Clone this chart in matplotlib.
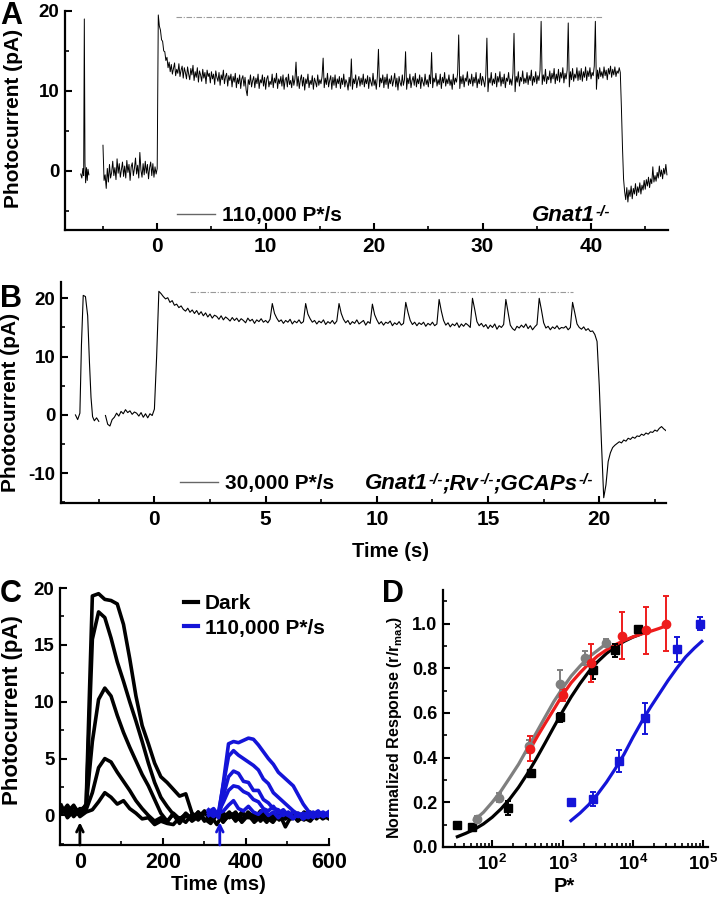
import numpy as np
import matplotlib

matplotlib.use("Agg")
import matplotlib.pyplot as plt
from matplotlib.lines import Line2D
from matplotlib.ticker import FormatStrFormatter, LogLocator, MultipleLocator, NullFormatter

plt.rcParams.update({
    "font.family": ["Liberation Sans", "DejaVu Sans"],
    "font.weight": "bold",
    "axes.labelweight": "bold",
    "axes.unicode_minus": False,
    "mathtext.fontset": "custom",
    "mathtext.rm": "Liberation Sans:bold",
    "mathtext.bf": "Liberation Sans:bold",
    "mathtext.it": "Liberation Sans:italic:bold",
    "mathtext.default": "rm",
})

# ---- panel A: Gnat1-/-, 110,000 P*/s (sampled every 0.1 s from -5 s) ----
A_PRE_T = [-7.05, -6.95, -6.85, -6.78, -6.72, -6.66, -6.6, -6.52, -6.45, -6.38, -6.3]
A_PRE_Y = [-0.4, -0.9, 0.3, -0.6, 19.0, 1.0, -1.5, 0.4, -1.2, 0.2, -0.5]
A_T0, A_DT = -5.0, 0.1
A_Y = [
    3.2, -1.2, -0.5, -2.2, 0.3, -1.4, 0.8, -0.9, -0.2, 1.2, -0.6, 0.4, -1.1, 1.5, -0.3, 0.9, -0.8, 0.2, 1.1, -0.7,
    0.6, -0.9, 1.3, -0.2, 0.8, -1.2, 0.5, 1.0, -0.6, 0.3, 1.6, -0.4, 0.7, -0.9, 2.3, 0.1, -0.8, 0.9, -0.5, 1.2,
    -0.3, 0.8, -1.0, 0.4, 1.1, -0.6, 0.9, -0.8, 0.5, -0.4, 0.3, 19.5, 18.1, 17.6, 16.4, 16.2, 15.0, 14.9, 13.8, 14.2,
    12.9, 13.6, 12.4, 13.3, 12.1, 12.8, 13.5, 11.9, 12.7, 12.2, 13.4, 11.8, 12.6, 13.1, 11.6, 12.9, 12.3, 11.5, 13.0, 12.1,
    11.4, 12.8, 12.0, 13.2, 11.3, 12.4, 11.7, 12.9, 11.1, 12.5, 12.0, 11.2, 12.7, 11.6, 12.3, 10.9, 12.6, 11.8, 12.2, 11.0,
    12.4, 11.5, 12.1, 10.8, 12.5, 11.7, 11.2, 12.3, 10.7, 12.0, 11.4, 12.6, 10.9, 11.8, 12.2, 10.6, 11.9, 11.3, 12.1, 10.5,
    11.8, 11.1, 12.2, 10.4, 11.6, 10.9, 12.0, 10.3, 11.5, 11.9, 10.6, 11.7, 10.1, 9.4, 11.4, 10.8, 12.0, 10.5, 11.3, 11.8,
    10.4, 11.6, 10.9, 12.1, 10.3, 11.4, 11.0, 12.0, 10.6, 11.7, 10.2, 11.5, 11.9, 10.5, 11.2, 10.8, 12.1, 10.4, 11.6, 11.0,
    12.2, 10.3, 11.5, 10.9, 11.8, 10.6, 12.0, 10.2, 11.4, 11.7, 10.5, 12.1, 10.8, 11.3, 10.4, 11.9, 10.7, 11.5, 13.6, 10.6,
    11.8, 10.3, 11.4, 12.0, 10.6, 11.7, 10.1, 11.5, 10.9, 12.1, 10.4, 11.3, 10.8, 11.9, 10.2, 11.6, 11.1, 10.5, 12.0, 10.7,
    11.4, 10.9, 11.8, 14.1, 10.4, 11.6, 10.8, 12.2, 10.5, 11.3, 11.9, 10.2, 11.7, 10.7, 12.0, 10.4, 11.5, 10.9, 11.8, 10.3,
    11.6, 10.8, 12.1, 10.5, 11.4, 11.0, 10.1, 11.7, 10.6, 14.0, 10.2, 11.5, 10.9, 12.0, 10.4, 11.3, 11.8, 10.6, 11.6, 10.8,
    12.1, 10.5, 11.5, 10.9, 11.9, 10.3, 11.7, 11.1, 10.6, 12.2, 10.7, 11.4, 10.2, 11.8, 15.2, 10.5, 11.6, 11.0, 12.0, 10.4,
    11.7, 10.8, 12.1, 10.3, 11.5, 10.9, 11.9, 10.6, 11.3, 12.2, 10.5, 11.6, 10.1, 11.8, 11.0, 10.6, 12.0, 10.7, 11.4, 14.9,
    10.2, 11.6, 10.9, 12.1, 10.4, 11.3, 11.8, 10.7, 12.2, 10.5, 11.5, 10.9, 12.0, 10.3, 11.7, 11.1, 10.6, 12.1, 10.8, 11.4,
    10.5, 12.0, 10.9, 14.8, 10.4, 11.6, 11.1, 12.2, 10.6, 11.4, 10.8, 12.1, 10.3, 11.7, 11.0, 12.3, 10.6, 11.5, 10.9, 12.0,
    10.7, 11.4, 10.2, 12.1, 10.8, 11.6, 11.1, 12.2, 17.0, 10.3, 11.8, 10.9, 12.0, 10.5, 11.6, 11.2, 12.4, 10.7, 11.5, 10.9,
    12.1, 10.6, 11.7, 11.0, 12.3, 10.4, 11.5, 10.9, 12.2, 10.7, 11.8, 11.2, 10.5, 12.0, 16.6, 9.9, 11.6, 11.0, 12.3, 10.7,
    11.5, 10.9, 12.2, 10.5, 11.8, 11.1, 12.4, 10.6, 11.7, 10.9, 12.1, 10.4, 11.6, 11.2, 12.3, 10.8, 11.5, 10.7, 12.2, 17.2,
    9.9, 11.8, 11.1, 12.4, 10.6, 11.7, 11.2, 12.5, 10.9, 11.6, 11.0, 12.3, 10.8, 11.9, 11.3, 12.6, 10.7, 11.8, 11.1, 12.4,
    10.9, 11.9, 11.3, 12.6, 18.7, 10.8, 12.0, 11.2, 12.7, 10.9, 11.8, 11.4, 12.5, 11.0, 12.2, 11.5, 12.8, 10.9, 12.1, 11.3,
    12.7, 11.1, 12.3, 11.6, 12.9, 11.0, 12.2, 11.5, 12.6, 18.5, 10.5, 12.4, 11.4, 12.8, 11.2, 12.1, 11.6, 12.9, 11.3, 12.5,
    11.4, 12.8, 11.2, 12.4, 11.7, 13.0, 11.3, 12.5, 11.8, 12.9, 11.5, 12.3, 11.9, 13.1, 18.7, 10.2, 12.6, 11.5, 12.9, 11.8,
    12.4, 11.6, 13.0, 11.9, 12.6, 11.4, 12.8, 12.1, 13.1, 11.7, 12.7, 12.0, 13.0, 11.8, 12.5, 12.2, 12.9, 12.3, 8.0, 3.0,
    -1.0, -2.6, -3.6, -2.1, -3.9, -2.4, -3.2, -1.9, -3.5, -2.2, -2.9, -1.6, -3.1, -2.0, -2.7, -1.5, -2.9, -1.8, -2.4, -1.2,
    -2.3, -1.1, -1.9, -0.8, -2.1, -1.0, -1.6, 0.5, -1.4, -0.6, -1.3, -0.2, -0.9, 0.6, -0.7, 0.1, -1.0, 0.3, -0.4, 0.8,
    -0.5,
]
A_STIM = (1.7, 41.1, 19.3)

# ---- panel B: Gnat1-/-;Rv-/-;GCAPs-/-, 30,000 P*/s (sampled every 0.1 s from -2.2 s) ----
B_PRE_T = [-3.55, -3.45, -3.35, -3.28, -3.2, -3.1, -3.0, -2.92, -2.85, -2.78, -2.7, -2.6, -2.5]
B_PRE_Y = [0.0, -0.8, 0.3, 12.0, 20.5, 20.3, 17.0, 9.0, 3.0, -0.3, -1.0, -0.5, -1.1]
B_T0, B_DT = -2.2, 0.1
B_Y = [
    -0.1, -1.6, -1.9, -0.8, -0.4, 0.3, -0.2, 0.6, 0.2, 0.9, 0.4, 0.7, 0.1, 0.5, 0.3, -0.2, 0.4, -0.4, 0.2, -0.5,
    0.2, -0.1, 1.0, 10.0, 21.2, 20.8, 20.3, 19.9, 20.1, 19.3, 19.6, 18.8, 19.0, 18.4, 18.7, 18.1, 17.8, 18.3, 17.6, 18.0,
    17.4, 17.9, 17.2, 17.7, 17.0, 17.5, 16.8, 17.3, 16.6, 17.1, 16.9, 16.4, 17.0, 16.3, 16.8, 16.5, 16.1, 16.7, 16.2, 16.6,
    16.0, 16.5, 16.2, 15.8, 16.6, 16.1, 16.4, 15.7, 16.3, 16.0, 16.5, 15.9, 16.2, 15.8, 16.4, 19.1, 17.4, 16.6, 16.0, 16.3,
    15.7, 16.2, 15.9, 16.4, 15.6, 16.1, 15.8, 16.3, 15.7, 16.0, 19.1, 17.3, 16.5, 15.9, 16.2, 15.6, 16.1, 15.8, 16.3, 15.5,
    16.0, 15.7, 16.2, 15.6, 16.1, 19.1, 17.4, 16.4, 15.8, 16.2, 15.5, 16.0, 15.7, 16.3, 15.6, 15.9, 16.2, 15.4, 16.0, 15.7,
    19.0, 17.2, 16.3, 15.6, 16.0, 15.4, 15.9, 15.7, 16.1, 15.3, 15.8, 15.5, 16.0, 15.4, 15.7, 19.3, 17.6, 16.2, 15.5, 15.9,
    15.3, 15.8, 15.5, 15.9, 15.2, 15.7, 15.4, 15.9, 15.3, 15.6, 19.8, 17.8, 16.2, 15.4, 15.8, 15.1, 15.6, 15.3, 15.8, 15.0,
    15.6, 15.2, 15.7, 15.4, 15.0, 20.0, 18.1, 16.0, 15.3, 15.7, 15.1, 15.5, 14.8, 15.4, 15.0, 15.6, 14.7, 15.3, 15.0, 15.5,
    19.8, 17.6, 15.4, 14.8, 14.5, 15.2, 14.9, 15.4, 15.0, 15.6, 14.8, 15.3, 14.6, 15.1, 15.5, 20.0, 18.0, 15.8, 14.9, 15.2,
    14.6, 15.1, 14.8, 15.3, 14.7, 15.0, 14.9, 15.2, 14.6, 15.0, 19.3, 17.5, 15.6, 15.0, 14.7, 15.1, 14.5, 14.8, 14.3, 14.4,
    13.8, 12.6, 5.0, -5.0, -14.2, -12.0, -8.0, -6.5, -5.6, -5.2, -4.9, -4.6, -4.8, -4.3, -4.5, -4.0, -4.2, -3.8, -4.0, -3.6,
    -3.7, -3.3, -3.5, -3.1, -3.3, -2.9, -3.0, -2.6, -2.8, -2.3, -2.0, -2.4, -2.7,
]
B_STIM = (1.6, 18.8, 21.0)

# ---- panel C: flash responses, dark vs background ----
C_T0, C_DT = -45, 15
C_DARK = [
    [0.6, 0.0, 0.8, 0.2, 1.0, 19.3, 19.5, 19.0, 18.9, 18.6, 16.8, 13.8, 10.5, 7.9, 6.3,
     4.6, 3.4, 2.9, 2.3, 1.7, 1.9, 0.2, -0.2, 0.4, -0.3, 0.2, -0.6, 0.1, -0.4, 0.3,
     -0.2, 0.2, -0.5, 0.1, -0.3, 0.2, -1.0, 0.0, -0.3, 0.2, -0.4, 0.1, -0.2, 0.1],
    [0.3, 0.7, -0.1, 0.5, 0.8, 15.5, 17.9, 17.4, 15.6, 13.5, 11.8, 10.0, 8.3, 6.5, 4.6,
     2.9, 1.6, 0.8, 0.1, -0.5, 0.2, -0.3, 0.3, -0.5, 0.0, -0.8, 0.2, -0.2, 0.3, -0.6,
     0.0, -0.3, 0.4, -0.2, -0.6, 0.1, -0.3, 0.2, -0.5, 0.0, 0.3, -0.3, 0.2, -0.1],
    [0.9, -0.2, 0.4, 0.0, 0.8, 6.5, 10.2, 11.2, 10.5, 8.8, 7.3, 6.0, 4.8, 3.6, 2.6,
     1.4, 0.2, -0.5, 0.1, -0.7, 0.0, -0.4, 0.3, -0.3, -0.7, 0.1, -0.4, 0.2, -0.1, -0.5,
     0.3, -0.2, 0.0, -0.6, 0.2, -0.4, 0.1, -0.3, 0.2, -0.2, -0.5, 0.2, 0.0, -0.3],
    [0.2, 0.9, 0.1, 0.6, 0.5, 2.0, 4.2, 5.0, 4.7, 3.8, 3.0, 2.2, 1.3, 0.6, 0.0,
     -0.5, -0.2, -0.6, 0.2, -0.3, 0.1, -0.5, -0.1, 0.3, -0.4, 0.0, -0.2, 0.3, -0.5, 0.1,
     -0.1, -0.4, 0.2, 0.0, -0.3, 0.3, -0.2, 0.1, -0.4, 0.3, -0.1, 0.2, -0.3, 0.0],
    [0.5, 0.3, 0.9, -0.1, 0.3, 0.5, 1.2, 2.0, 1.6, 1.0, 1.3, 0.6, 0.2, -0.3, -0.2,
     -0.8, -0.5, -0.7, -0.8, -0.2, -0.6, 0.1, -0.4, 0.2, -0.2, 0.1, -0.5, 0.0, 0.2, -0.3,
     0.1, -0.6, -0.1, 0.2, -0.4, 0.0, -0.3, 0.2, -0.1, -0.4, 0.1, -0.2, 0.2, -0.1],
]
C_BG_T0, C_BG_DT = 310, 12
C_BG = [
    [0.3, 0.6, 0.0, 3.0, 6.3, 6.5, 6.4, 6.6, 6.8, 6.7, 6.2, 5.6, 5.0, 4.5, 3.8,
     3.4, 3.0, 2.6, 1.8, 1.0, 0.4, 0.0, 0.3, -0.1, 0.2],
    [0.5, 0.1, 0.3, 2.8, 5.2, 5.7, 5.3, 5.0, 4.7, 4.4, 4.0, 3.2, 2.8, 2.0, 1.6,
     1.2, 0.8, 0.4, 0.1, -0.3, 0.2, -0.2, 0.1, 0.3, 0.0],
    [0.0, 0.4, -0.2, 1.8, 3.4, 3.9, 3.7, 3.0, 2.9, 2.2, 2.2, 1.4, 1.1, 0.6, 0.5,
     0.0, 0.3, -0.2, 0.1, -0.3, 0.0, 0.3, -0.1, 0.2, 0.0],
    [0.2, -0.1, 0.3, 1.2, 2.2, 2.6, 2.5, 2.1, 1.9, 1.4, 1.2, 0.6, 0.4, 0.8, 0.2,
     0.5, 0.0, 0.3, -0.1, 0.2, -0.2, 0.1, 0.4, -0.1, 0.1],
    [0.4, 0.0, 0.2, 0.4, 0.9, 1.3, 0.6, 0.4, 0.8, 0.3, 0.1, 0.5, 0.0, 0.3, -0.2,
     0.2, 0.0, -0.3, 0.2, 0.0, 0.3, -0.1, 0.2, 0.0, 0.3],
]
C_FLASH_T = [0, 337]
C_LABELS = ["Dark", "110,000 P*/s"]

# ---- panel D: intensity-response ----
D_BLACK_X = [32, 52, 167, 360, 930, 2700, 5600, 12000]
D_BLACK_Y = [0.10, 0.09, 0.175, 0.33, 0.58, 0.79, 0.88, 0.975]
D_BLACK_E = [0.0, 0.01, 0.03, 0.015, 0.02, 0.04, 0.03, 0.01]
D_GRAY_X = [60, 125, 330, 930, 2100, 4100]
D_GRAY_Y = [0.125, 0.22, 0.45, 0.73, 0.845, 0.915]
D_GRAY_E = [0.015, 0.02, 0.03, 0.06, 0.03, 0.015]
D_RED_X = [350, 1000, 2500, 6900, 15500, 30000]
D_RED_Y = [0.44, 0.68, 0.825, 0.945, 0.97, 1.0]
D_RED_E = [0.055, 0.025, 0.085, 0.105, 0.105, 0.125]
D_BLUE_X = [1330, 2700, 6400, 15000, 42000, 89000]
D_BLUE_Y = [0.20, 0.215, 0.385, 0.575, 0.885, 1.0]
D_BLUE_E = [0.0, 0.03, 0.05, 0.07, 0.055, 0.03]

D_BLACK_FIT_X = [32, 42, 56, 75, 100, 133, 178, 237, 316, 422, 562, 750, 1000, 1330,
                 1780, 2370, 3160, 4220, 5620, 7500, 10000, 12600]
D_BLACK_FIT_Y = [0.046, 0.061, 0.079, 0.103, 0.133, 0.170, 0.215, 0.267, 0.327, 0.394, 0.464,
                 0.536, 0.606, 0.672, 0.732, 0.785, 0.829, 0.866, 0.896, 0.920, 0.939, 0.951]
D_GRAY_FIT_X = [56, 75, 100, 133, 178, 237, 316, 422, 562, 750, 1000, 1330, 1780, 2370, 3160, 4200]
D_GRAY_FIT_Y = [0.12, 0.155, 0.20, 0.25, 0.31, 0.37, 0.44, 0.51, 0.58, 0.65, 0.71, 0.765,
                0.81, 0.85, 0.88, 0.91]
D_RED_FIT_X = [350, 440, 560, 750, 1000, 1330, 1780, 2370, 3160, 4220, 5620, 7500,
               10000, 13300, 17800, 23700, 30000]
D_RED_FIT_Y = [0.44, 0.495, 0.55, 0.615, 0.68, 0.735, 0.78, 0.82, 0.855, 0.882, 0.905, 0.924,
               0.94, 0.953, 0.965, 0.978, 0.99]
D_BLUE_FIT_X = [1318, 1778, 2371, 3162, 4217, 5623, 7499, 10000, 13335, 17783, 23714,
                31623, 42170, 56234, 74989, 95500]
D_BLUE_FIT_Y = [0.118, 0.152, 0.19, 0.237, 0.29, 0.35, 0.415, 0.49, 0.56, 0.625, 0.685,
                0.745, 0.80, 0.85, 0.89, 0.92]

BLUE = "#1414d8"
RED = "#ee1c1c"
GRAY = "#7f7f7f"


def grid_times(t0, dt, n):
    return t0 + dt * np.arange(n)


def style_axis(ax, xsize=15, ysize=13.5):
    for side in ("top", "right"):
        ax.spines[side].set_visible(False)
    for side in ("left", "bottom"):
        ax.spines[side].set_linewidth(1.6)
    ax.tick_params(which="major", direction="in", length=5, width=1.5)
    ax.tick_params(which="minor", direction="in", length=3, width=1.2)
    ax.tick_params(axis="x", labelsize=xsize, pad=5)
    ax.tick_params(axis="y", labelsize=ysize, pad=4)


def stim_legend(ax, label, anchor):
    handle = Line2D([], [], color="#666666", lw=1.0)
    ax.legend([handle], [label], frameon=False, loc="center left", bbox_to_anchor=anchor,
              handlelength=1.8, handletextpad=0.35, borderpad=0, borderaxespad=0,
              prop={"weight": "bold", "size": 15})


def genotype(ax, x, y, parts, size=16, sup_size=11):
    """Italic gene names, each followed by a small -/- superscript."""
    first = ax.text(x, y, parts[0][0], transform=ax.transAxes, ha="left", va="center",
                    fontsize=size, style="italic")
    prev = first
    for i, (name, sup) in enumerate(parts):
        if i > 0:
            prev = ax.annotate(name, xy=(1, 0), xycoords=(prev, first), ha="left", va="bottom",
                               fontsize=size, style="italic")
        prev = ax.annotate(sup, xy=(1, 1), xycoords=(prev, first), xytext=(0.5, 0),
                           textcoords="offset points", ha="left", va="top",
                           fontsize=sup_size, style="italic")


fig = plt.figure(figsize=(7.2, 8.98), dpi=100)

# A
ax = fig.add_axes([0.0903, 0.7439, 0.8375, 0.2439])
ax.plot(A_PRE_T, A_PRE_Y, color="black", lw=0.7)
ax.plot(grid_times(A_T0, A_DT, len(A_Y)), A_Y, color="black", lw=0.7)
ax.hlines(A_STIM[2], A_STIM[0], A_STIM[1], color="#999999", lw=0.8, linestyles=(0, (5, 1.5, 1, 1.5)))
ax.set_xlim(-8.5, 47.1)
ax.set_ylim(-7.4, 20)
ax.xaxis.set_major_locator(MultipleLocator(10))
ax.xaxis.set_minor_locator(MultipleLocator(5))
ax.yaxis.set_major_locator(MultipleLocator(10))
ax.yaxis.set_minor_locator(MultipleLocator(5))
style_axis(ax)
ax.set_ylabel("Photocurrent (pA)", fontsize=15, va="center")
ax.yaxis.set_label_coords(-0.085, 0.51)
stim_legend(ax, "110,000 P*/s", (0.186, 0.064))
genotype(ax, 0.774, 0.064, [("Gnat1", "-/-")])

# B
ax = fig.add_axes([0.0847, 0.4399, 0.8403, 0.2461])
ax.plot(B_PRE_T, B_PRE_Y, color="black", lw=0.8)
ax.plot(grid_times(B_T0, B_DT, len(B_Y)), B_Y, color="black", lw=0.8)
ax.hlines(B_STIM[2], B_STIM[0], B_STIM[1], color="#999999", lw=0.8, linestyles=(0, (5, 1.5, 1, 1.5)))
ax.set_xlim(-4.2, 23.0)
ax.set_ylim(-15.1, 22.8)
ax.xaxis.set_major_locator(MultipleLocator(5))
ax.xaxis.set_minor_locator(MultipleLocator(2.5))
ax.yaxis.set_major_locator(MultipleLocator(10))
ax.yaxis.set_minor_locator(MultipleLocator(5))
style_axis(ax)
ax.set_ylabel("Photocurrent (pA)", fontsize=15, va="center")
ax.yaxis.set_label_coords(-0.084, 0.457)
ax.set_xlabel("Time (s)", fontsize=14.5)
ax.xaxis.set_label_coords(0.545, -0.176)
stim_legend(ax, "30,000 P*/s", (0.197, 0.086))
genotype(ax, 0.502, 0.086, [("Gnat1", "-/-"), (";Rv", "-/-"), (";GCAPs", "-/-")])

# C
ax = fig.add_axes([0.0833, 0.0590, 0.3736, 0.2862])
for trace in C_DARK:
    ax.plot(grid_times(C_T0, C_DT, len(trace)), trace, color="black", lw=2.6)
for trace in C_BG:
    ax.plot(grid_times(C_BG_T0, C_BG_DT, len(trace)), trace, color=BLUE, lw=2.6)
for t_flash, col in zip(C_FLASH_T, ["black", BLUE]):
    ax.annotate("", xy=(t_flash, -0.6), xytext=(t_flash, -2.6),
                arrowprops=dict(arrowstyle="->", color=col, lw=2.0, mutation_scale=12,
                                shrinkA=0, shrinkB=0), annotation_clip=False)
ax.set_xlim(-48, 600)
ax.set_ylim(-2.6, 20)
ax.xaxis.set_major_locator(MultipleLocator(200))
ax.xaxis.set_minor_locator(MultipleLocator(100))
ax.yaxis.set_major_locator(MultipleLocator(5))
ax.yaxis.set_minor_locator(MultipleLocator(2.5))
style_axis(ax, xsize=15.5, ysize=13.5)
ax.set_ylabel("Photocurrent (pA)", fontsize=16, va="center")
ax.yaxis.set_label_coords(-0.178, 0.525)
ax.set_xlabel("Time (ms)", fontsize=14.5)
ax.xaxis.set_label_coords(0.588, -0.115)
handles = [Line2D([], [], color="black", lw=3), Line2D([], [], color=BLUE, lw=3)]
ax.legend(handles, C_LABELS, frameon=False, loc="upper left", bbox_to_anchor=(0.46, 0.975),
          handlelength=0.7, handletextpad=0.3, borderpad=0, borderaxespad=0, labelspacing=0.25,
          prop={"weight": "bold", "size": 15})

# D
ax = fig.add_axes([0.6153, 0.0568, 0.368, 0.2862])
ax.set_xscale("log")
series = [
    (D_BLACK_X, D_BLACK_Y, D_BLACK_E, D_BLACK_FIT_X, D_BLACK_FIT_Y, "black", "s"),
    (D_GRAY_X, D_GRAY_Y, D_GRAY_E, D_GRAY_FIT_X, D_GRAY_FIT_Y, GRAY, "o"),
    (D_RED_X, D_RED_Y, D_RED_E, D_RED_FIT_X, D_RED_FIT_Y, RED, "o"),
    (D_BLUE_X, D_BLUE_Y, D_BLUE_E, D_BLUE_FIT_X, D_BLUE_FIT_Y, BLUE, "s"),
]
for x, y, err, fx, fy, col, mk in series:
    ax.plot(fx, fy, color=col, lw=2.3, zorder=2)
    ax.errorbar(x, y, yerr=err, fmt=mk, color=col, ms=6, elinewidth=1.4, capsize=2.5,
                capthick=1.4, zorder=3)
ax.set_xlim(20, 1.17e5)
ax.set_ylim(0, 1.15)
ax.xaxis.set_major_locator(LogLocator(base=10, numticks=10))
ax.xaxis.set_minor_locator(LogLocator(base=10, subs=np.arange(2, 10), numticks=10))
ax.xaxis.set_minor_formatter(NullFormatter())
ax.yaxis.set_major_locator(MultipleLocator(0.2))
ax.yaxis.set_minor_locator(MultipleLocator(0.1))
ax.yaxis.set_major_formatter(FormatStrFormatter("%.1f"))
style_axis(ax, xsize=13.5, ysize=13)
ax.set_ylabel(r"Normalized Response $\left(\mathrm{r/r_{max}}\right)$", fontsize=11.5, va="center")
ax.yaxis.set_label_coords(-0.18, 0.467)
ax.set_xlabel("P*", fontsize=14.5)
ax.xaxis.set_label_coords(0.457, -0.115)

for letter, x, y in [("A", 0.0, 0.999), ("B", 0.0, 0.684), ("C", 0.0, 0.355), ("D", 0.530, 0.355)]:
    fig.text(x, y, letter, fontsize=22, fontweight="bold", ha="left", va="top")

fig.savefig("out.png", dpi=100)
